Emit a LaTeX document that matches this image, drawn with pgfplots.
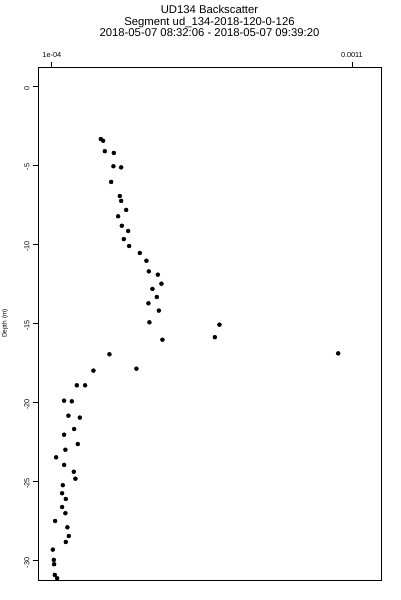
\documentclass[border=0pt]{standalone}
\usepackage{pgfplots}
\pgfplotsset{compat=1.18}
\usepackage{fontspec}
\setmainfont{Liberation Sans}
\begin{document}
\begin{tikzpicture}[x=1pt,y=1pt]
\useasboundingbox (-38,-20) rectangle (362,580);
\begin{axis}[
  at={(0,0)}, anchor=south west,
  scale only axis, width=343pt, height=513pt,
  xmin=0.54, xmax=11.97, ymin=-31.21, ymax=1.20,
  axis line style={line width=0.7pt},
  every tick/.style={black, line width=0.7pt},
  tick align=outside, major tick length=5pt,
  xtick pos=right, ytick pos=left,
  xtick={1,11}, xticklabels={1e-04,0.0011},
  ytick={-30,-25,-20,-15,-10,-5,0},
  yticklabels={-30,-25,-20,-15,-10,-5,0},
  x tick label style={font=\fontsize{7.3}{8}\selectfont, yshift=1pt},
  y tick label style={font=\fontsize{7.3}{8}\selectfont, rotate=90, anchor=south, xshift=-2pt},
  minor tick num=0,
]
\addplot[only marks, mark=*, mark size=2pt, mark options={fill=black, draw=black}] coordinates {
(2.633,-3.35) (2.71,-3.46) (2.767,-4.12) (3.067,-4.23) (3.053,-5.07) (3.31,-5.14)
(2.977,-6.06) (3.267,-6.95) (3.31,-7.26) (3.477,-7.83) (3.21,-8.23) (3.333,-8.83)
(3.543,-9.16) (3.4,-9.67) (3.577,-10.11) (3.933,-10.55) (4.153,-11.04) (4.233,-11.71)
(4.533,-11.92) (4.653,-12.49) (4.353,-12.82) (4.5,-13.33) (4.22,-13.73) (4.567,-14.19)
(4.253,-14.93) (6.587,-15.08) (6.433,-15.87) (4.687,-16.03) (10.543,-16.89) (2.92,-16.95)
(3.82,-17.86) (2.387,-17.98) (1.833,-18.91) (2.11,-18.91) (1.41,-19.88) (1.667,-19.92)
(1.553,-20.83) (1.933,-20.95) (1.743,-21.67) (1.41,-22.03) (1.867,-22.62) (1.453,-22.98)
(1.143,-23.46) (1.41,-23.94) (1.733,-24.37) (1.787,-24.81) (1.367,-25.22) (1.343,-25.73)
(1.467,-26.09) (1.343,-26.6) (1.453,-26.99) (1.11,-27.48) (1.52,-27.88) (1.567,-28.43)
(1.467,-28.81) (1.033,-29.29) (1.067,-29.94) (1.077,-30.21) (1.1,-30.89) (1.177,-31.10)
};
\end{axis}
\node[align=center, font=\fontsize{11.3}{11.8}\selectfont, anchor=north] at (171.5,578.5)
  {UD134 Backscatter\\Segment ud\_134-2018-120-0-126\\2018-05-07 08:32:06 - 2018-05-07 09:39:20};
\node[rotate=90, font=\fontsize{6.5}{7}\selectfont] at (-33,256.5) {Depth (m)};
\end{tikzpicture}
\end{document}
